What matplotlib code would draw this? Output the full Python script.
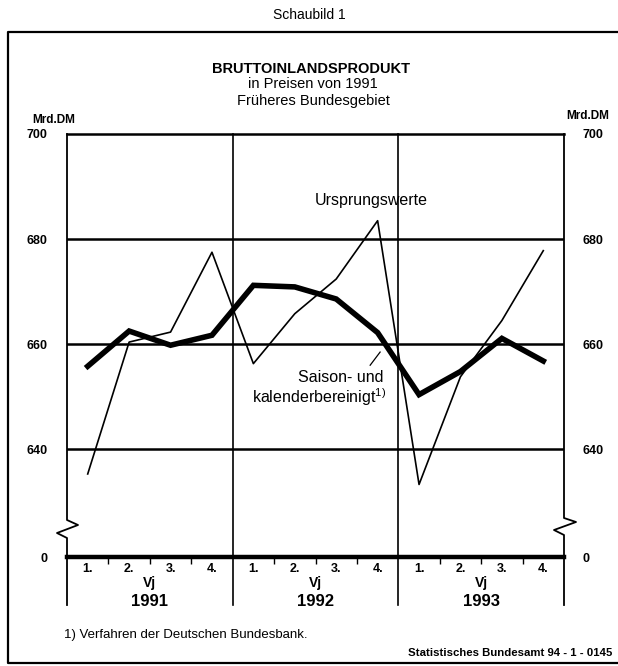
import matplotlib
matplotlib.use("Agg")
import matplotlib.pyplot as plt
from matplotlib.lines import Line2D
import matplotlib.transforms as mtransforms

plt.rcParams['font.family'] = ['Liberation Sans', 'DejaVu Sans']
plt.rcParams['mathtext.default'] = 'regular'

# ---------------- data ----------------
years = ['1991', '1992', '1993']
quarter_labels = ['1.', '2.', '3.', '4.'] * 3
ursprungswerte = [635.3, 660.4, 662.3, 677.5,
                  656.3, 665.8, 672.4, 683.5,
                  633.3, 653.8, 664.5, 677.8]
saisonbereinigt = [655.8, 662.5, 659.8, 661.7,
                   671.2, 670.9, 668.6, 662.2,
                   650.4, 654.8, 661.1, 656.8]
y_ticks = [640, 660, 680, 700]
y_bottom = 619.5          # position of the "0" line (broken axis)

W, H = 618, 666
fig = plt.figure(figsize=(W / 100, H / 100), dpi=100)

# axes box in pixels
L, R, T, B = 67, 564, 134, 557
ax = fig.add_axes([L / W, 1 - B / H, (R - L) / W, (B - T) / H])

x = list(range(len(quarter_labels)))
ax.set_xlim(-0.5, len(x) - 0.5)
ax.set_ylim(y_bottom, 700)

def ay(py):
    return (B - py) / (B - T)

# grid lines
for v in y_ticks[:-1]:
    ax.axhline(v, color='black', lw=1.8, zorder=1)
for i in range(1, len(years)):
    ax.axvline(4 * i - 0.5, ymin=ay(605), ymax=1, color='black', lw=1.2,
               clip_on=False, zorder=1)

# spines
for s in ['left', 'right', 'bottom']:
    ax.spines[s].set_visible(False)
ax.spines['top'].set_linewidth(1.8)

# left / right axis lines with break zigzag
for side in ('left', 'right'):
    px0 = L if side == 'left' else R
    if side == 'left':
        zz = [(px0, T), (px0, 520), (px0 + 11, 525), (px0 - 10, 533), (px0, 538), (px0, 605)]
    else:
        zz = [(px0, T), (px0, 518), (px0 + 12, 522), (px0 - 10, 530), (px0, 535), (px0, 605)]
    xx = [(p[0] - L) / (R - L) for p in zz]
    yy = [ay(p[1]) for p in zz]
    ax.add_line(Line2D(xx, yy, transform=ax.transAxes, color='black', lw=1.3,
                       clip_on=False))

# zero line
ax.axhline(y_bottom, color='black', lw=3.2, clip_on=False, zorder=3)

# series
ax.plot(x, ursprungswerte, color='black', lw=1.2, zorder=4)
ax.plot(x, saisonbereinigt, color='black', lw=4.0, solid_joinstyle='miter', zorder=5)

# y tick labels
ax.set_yticks([y_bottom] + y_ticks, ['0'] + [str(v) for v in y_ticks])
ax.tick_params(axis='y', length=0, pad=14, labelsize=9)
for lab in ax.get_yticklabels():
    lab.set_fontweight('bold')
ax2 = ax.twinx()
ax2.set_ylim(ax.get_ylim())
ax2.set_yticks([y_bottom] + y_ticks, ['0'] + [str(v) for v in y_ticks])
ax2.tick_params(axis='y', length=0, pad=13, labelsize=9)
for lab in ax2.get_yticklabels():
    lab.set_fontweight('bold')
for s in ax2.spines.values():
    s.set_visible(False)

# x ticks
ax.set_xticks(x, quarter_labels)
ax.tick_params(axis='x', length=0, pad=4, labelsize=9)
for lab in ax.get_xticklabels():
    lab.set_fontweight('bold')
minor = [i + 0.5 for i in x[:-1] if (i + 1) % 4 != 0]
ax.set_xticks(minor, minor=True)
ax.tick_params(axis='x', which='minor', length=5, width=1.0, direction='out')

trans = mtransforms.blended_transform_factory(ax.transData, ax.transAxes)
for i, yr in enumerate(years):
    cx = 4 * i + 1.5
    ax.text(cx, ay(583), 'Vj', transform=trans, ha='center', va='center',
            fontsize=10, fontweight='bold')
    ax.text(cx, ay(601), yr, transform=trans, ha='center', va='center',
            fontsize=12, fontweight='bold')

# in-plot labels
ax.text(6.84, 687.3, 'Ursprungswerte', ha='center', va='center', fontsize=11.5)
ax.text(7.13, 653.6, 'Saison- und', ha='right', va='center', fontsize=11.5)
ax.text(7.2, 649.9, 'kalenderbereinigt$^{1)}$', ha='right', va='center', fontsize=11.5)
ax.plot([6.82, 7.06], [656.0, 658.5], color='black', lw=0.9)

# figure texts
def ft(px, py, s, **kw):
    fig.text(px / W, 1 - py / H, s, **kw)

ft(309, 15, 'Schaubild 1', ha='center', va='center', fontsize=10)
ft(311, 69, 'BRUTTOINLANDSPRODUKT', ha='center', va='center', fontsize=10.5,
   fontweight='bold')
ft(313, 84, 'in Preisen von 1991', ha='center', va='center', fontsize=10.5)
ft(313, 101, 'Früheres Bundesgebiet', ha='center', va='center', fontsize=10.5)
ft(32, 120, 'Mrd.DM', ha='left', va='center', fontsize=8.5, fontweight='bold')
ft(609, 116, 'Mrd.DM', ha='right', va='center', fontsize=8.5, fontweight='bold')
ft(64, 635, '1) Verfahren der Deutschen Bundesbank.', ha='left', va='center',
   fontsize=9.5)
ft(612, 653, 'Statistisches Bundesamt 94 - 1 - 0145', ha='right', va='center',
   fontsize=8.2, fontweight='bold')

# outer frame
fx = [617, 8, 8, 617]
fy = [32, 32, 663, 663]
fig.add_artist(Line2D([p / W for p in fx], [1 - p / H for p in fy],
                      transform=fig.transFigure, color='black', lw=1.6))

fig.savefig('out.png', dpi=100)
